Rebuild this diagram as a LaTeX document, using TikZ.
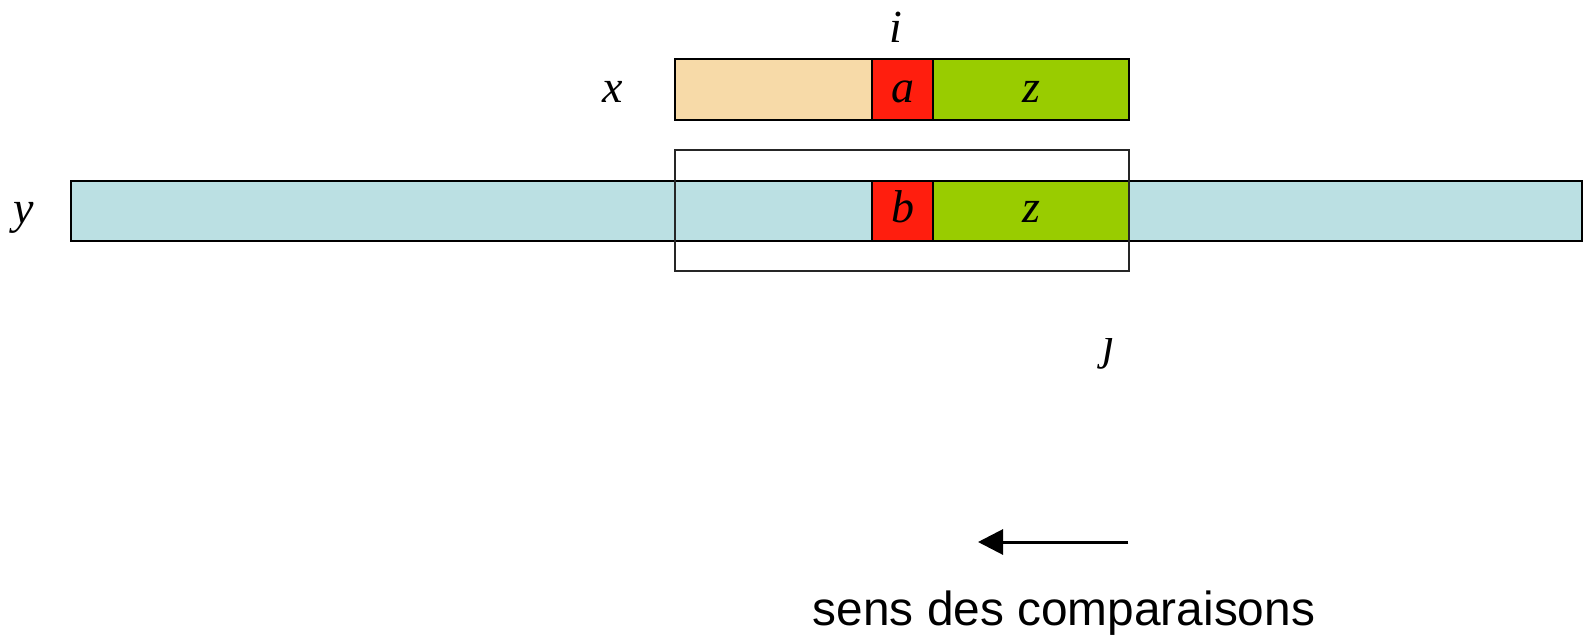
\documentclass[tikz,border=0pt]{standalone}
\usepackage{fontspec}
\setmainfont{Liberation Serif}
\newfontfamily\captionsans{Liberation Sans}
\usetikzlibrary{arrows.meta}

\definecolor{peach}{RGB}{247,218,168}
\definecolor{cellred}{RGB}{255,30,14}
\definecolor{cellgreen}{RGB}{153,204,0}
\definecolor{paleblue}{RGB}{187,224,227}

\tikzset{
  cell/.style={rectangle, draw=black, line width=2pt, inner sep=0pt,
               anchor=north west},
  window/.style={rectangle, draw=black!85, line width=1.6pt, inner sep=0pt,
                 anchor=north west},
  lbl/.style={font=\fontsize{46}{46}\selectfont\itshape, inner sep=0pt,
              anchor=base},
  caption/.style={font=\captionsans\fontsize{47.8}{48}\selectfont, inner sep=0pt,
                  anchor=base}
}

\begin{document}
\begin{tikzpicture}[x=1pt,y=-1pt]
  \useasboundingbox (0,0) rectangle (1583,639);

  % word x
  \node[cell, fill=peach, minimum width=197pt, minimum height=60.7pt] (xpre) at (674.3,58.3) {};
  \node[cell, fill=cellred, minimum width=60.7pt, minimum height=60.7pt] (xa) at (871.3,58.3) {};
  \node[cell, fill=cellgreen, minimum width=196.3pt, minimum height=60.7pt] (xz) at (932,58.3) {};

  % text y
  \node[cell, fill=paleblue, minimum width=1511pt, minimum height=60pt] (ybar) at (70,180) {};
  \node[cell, fill=cellred, minimum width=60.7pt, minimum height=60pt] (yb) at (871.3,180) {};
  \node[cell, fill=cellgreen, minimum width=196.3pt, minimum height=60pt] (yz) at (932,180) {};

  % current window over y
  \node[window, minimum width=454pt, minimum height=121pt] (win) at (674.3,149) {};

  % labels
  \node[lbl] (lx) at (613,102.5) {x};
  \node[lbl] (ly) at (24,223.5) {y};
  \node[lbl] (li) at (896,42.5) {i};
  \node[lbl] (la) at (xa.center |- 0,102.5) {a};
  \node[lbl] (lz1) at (xz.center |- 0,102.5) {z};
  \node[lbl] (lb) at (yb.center |- 0,223) {b};
  \node[lbl] (lz2) at (yz.center |- 0,223) {z};

  % index j, partly hidden
  \begin{scope}
    \clip (1070,338) rectangle (1150,400);
    \node[lbl] (lj) at (1109,359) {j};
  \end{scope}

  % direction of comparisons
  \coordinate (arrstart) at (1128.3,542);
  \coordinate (arrend) at (978,542);
  \draw[line width=3pt, -{Triangle[length=25pt,width=25pt]}] (arrstart) -- (arrend);
  \node[caption] (cap) at (1064,625) {sens des comparaisons};
\end{tikzpicture}
\end{document}
